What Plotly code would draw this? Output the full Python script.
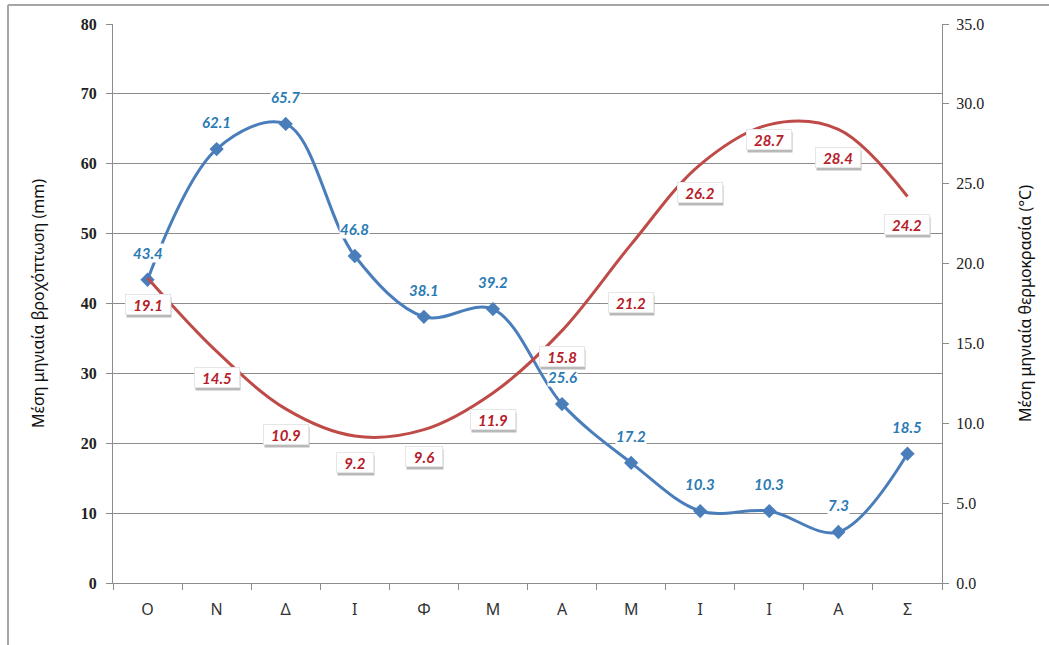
import plotly.graph_objects as go

months = ["Ο", "Ν", "Δ", "Ι", "Φ", "Μ", "Α", "Μ", "Ι", "Ι", "Α", "Σ"]
rain = [43.4, 62.1, 65.7, 46.8, 38.1, 39.2, 25.6, 17.2, 10.3, 10.3, 7.3, 18.5]
temp = [19.1, 14.5, 10.9, 9.2, 9.6, 11.9, 15.8, 21.2, 26.2, 28.7, 28.4, 24.2]

# label offsets (pixels below the curve point) for temperature labels
temp_label_shift = [-27, -26, -26, -26, -27, -27, -26, -58, -28, -15, -28, -28]

W, H = 1049, 645
L, R, T, B = 113, 107, 24, 62
pw, ph = W - L - R, H - T - B

BLUE = "#4a7ebb"
RED = "#be4b48"
BLUE_TXT = "#2a7ab3"
RED_TXT = "#b5202a"

x = list(range(len(months)))

fig = go.Figure()
fig.add_trace(go.Scatter(
    x=x, y=rain, mode="lines+markers", yaxis="y",
    line=dict(color=BLUE, width=3, shape="spline", smoothing=1.0),
    marker=dict(symbol="diamond", size=11, color=BLUE),
    showlegend=False, hoverinfo="skip"))
fig.add_trace(go.Scatter(
    x=x, y=temp, mode="lines", yaxis="y2",
    line=dict(color=RED, width=3, shape="spline", smoothing=1.0),
    showlegend=False, hoverinfo="skip"))

ann = []
lab_font = dict(family="Lato, Open Sans, sans-serif", size=15, weight="bold", style="italic")
for i, v in enumerate(rain):
    ann.append(dict(x=x[i], y=v, xref="x", yref="y", text=f"{v:.1f}", showarrow=False,
                    yshift=27, bgcolor="white", borderpad=0,
                    font=dict(color=BLUE_TXT, **lab_font)))
for i, v in enumerate(temp):
    txt = f"{v:.1f}"
    bw = 44 if len(txt) > 3 else 36
    # shadow box (no text)
    ann.append(dict(x=x[i], y=v, xref="x", yref="y2", text="&nbsp;", showarrow=False,
                    yshift=temp_label_shift[i] - 3, xshift=1, bgcolor="#b9b9b9",
                    width=bw, height=19, borderpad=0,
                    font=dict(color="#b9b9b9", size=10)))
    ann.append(dict(x=x[i], y=v, xref="x", yref="y2", text=txt, showarrow=False,
                    yshift=temp_label_shift[i], bgcolor="white", borderpad=0,
                    width=bw, height=19,
                    bordercolor="#e6e6e6", borderwidth=1,
                    font=dict(color=RED_TXT, **lab_font)))

def px_x(p):
    return (p - L) / pw

def px_y(p):
    return (H - B - p) / ph

shapes = [
    dict(type="line", xref="paper", yref="paper", x0=px_x(8), x1=px_x(8), y0=px_y(5), y1=px_y(H + 5),
         line=dict(color="#a6a6a6", width=2)),
    dict(type="line", xref="paper", yref="paper", x0=px_x(8), x1=px_x(W + 5), y0=px_y(5), y1=px_y(5),
         line=dict(color="#a6a6a6", width=2)),
]

fig.update_layout(
    width=W, height=H,
    margin=dict(l=L, r=R, t=T, b=B, pad=0),
    paper_bgcolor="white", plot_bgcolor="white",
    annotations=ann, shapes=shapes,
    xaxis=dict(
        range=[-0.5, len(months) - 0.5], tickmode="array", tickvals=x, ticktext=months,
        ticks="", showgrid=False, zeroline=False,
        showline=True, linecolor="#8c8c8c", linewidth=1,
        tickfont=dict(family="Noto Sans, sans-serif", size=16, color="#333333"),
        ticklabelstandoff=12,
        minor=dict(tickmode="linear", tick0=-0.5, dtick=1, ticks="outside", ticklen=6,
                   tickcolor="#8c8c8c", showgrid=False),
    ),
    yaxis=dict(
        range=[0, 80], tickmode="linear", tick0=0, dtick=10,
        showgrid=True, gridcolor="#8c8c8c", gridwidth=1, zeroline=False,
        showline=True, linecolor="#8c8c8c", linewidth=1,
        ticks="outside", ticklen=6, tickcolor="#8c8c8c",
        ticklabelstandoff=6,
        tickfont=dict(family="Liberation Serif, serif", size=16, color="#222222", weight="bold"),
        title=dict(text="Μέση μηνιαία βροχόπτωση (mm)", standoff=32,
                   font=dict(family="Noto Sans, sans-serif", size=16, color="#111111")),
    ),
    yaxis2=dict(
        range=[0, 35], overlaying="y", side="right", tickmode="linear", tick0=0, dtick=5,
        tickformat=".1f", showgrid=False, zeroline=False,
        showline=True, linecolor="#8c8c8c", linewidth=1,
        ticks="outside", ticklen=6, tickcolor="#8c8c8c",
        ticklabelstandoff=4,
        tickfont=dict(family="Liberation Serif, serif", size=16, color="#222222"),
        title=dict(text="Μέση μηνιαία θερμοκρασία (°C)", standoff=36,
                   font=dict(family="Noto Sans, sans-serif", size=16, color="#111111")),
    ),
)

fig.write_html("out.html")
